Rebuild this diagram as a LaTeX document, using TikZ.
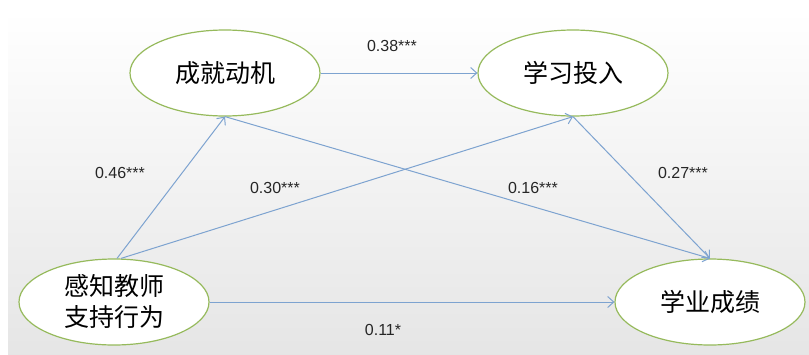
\documentclass[tikz,border=0pt]{standalone}
\usepackage{fontspec}
\setmainfont{Liberation Sans}
\newfontfamily\cjk{Noto Sans CJK SC}
\usetikzlibrary{arrows,arrows.meta,shapes,positioning}

\definecolor{pathblue}{RGB}{125,163,208}
\definecolor{ovalgreen}{RGB}{150,186,92}

\begin{document}
\begin{tikzpicture}[
  x=1pt, y=-1pt,
  latent/.style={draw=ovalgreen, line width=1.2pt, fill=white, ellipse, minimum width=190pt, minimum height=86pt, inner sep=0pt, align=center, font=\cjk\fontsize{25}{31}\selectfont},
  path/.style={draw=pathblue, line width=1pt, -{Straight Barb[length=6pt,width=11pt]}},
  coef/.style={font=\fontsize{16}{18}\selectfont, text=black!85}
]

% background
\useasboundingbox (0,0) rectangle (809,354);
\shade[top color=white, bottom color=black!10] (8,11) rectangle (809,354);

% latent variables
\node[latent] (ach) at (225,73) {成就动机};
\node[latent] (eng) at (573,73) {学习投入};
\node[latent] (sup) at (114,302) {感知教师\\支持行为};
\node[latent] (perf) at (710,302) {学业成绩};

% paths
\draw[path] (ach.east) -- (eng.west);
\draw[path] ([xshift=3pt]sup.north) -- (ach.south);
\draw[path] ([xshift=7pt]sup.north) -- (eng.south);
\draw[path] (ach.south) -- (perf.north);
\draw[path] (eng.south) -- (perf.north);
\draw[path] (sup.east) -- (perf.west);

% coefficients
\node[coef] (c1) at (392,46) {0.38***};
\node[coef] (c2) at (120,173) {0.46***};
\node[coef] (c3) at (275,188) {0.30***};
\node[coef] (c4) at (533,188) {0.16***};
\node[coef] (c5) at (683,173) {0.27***};
\node[coef] (c6) at (383,330) {0.11*};
\end{tikzpicture}
\end{document}
